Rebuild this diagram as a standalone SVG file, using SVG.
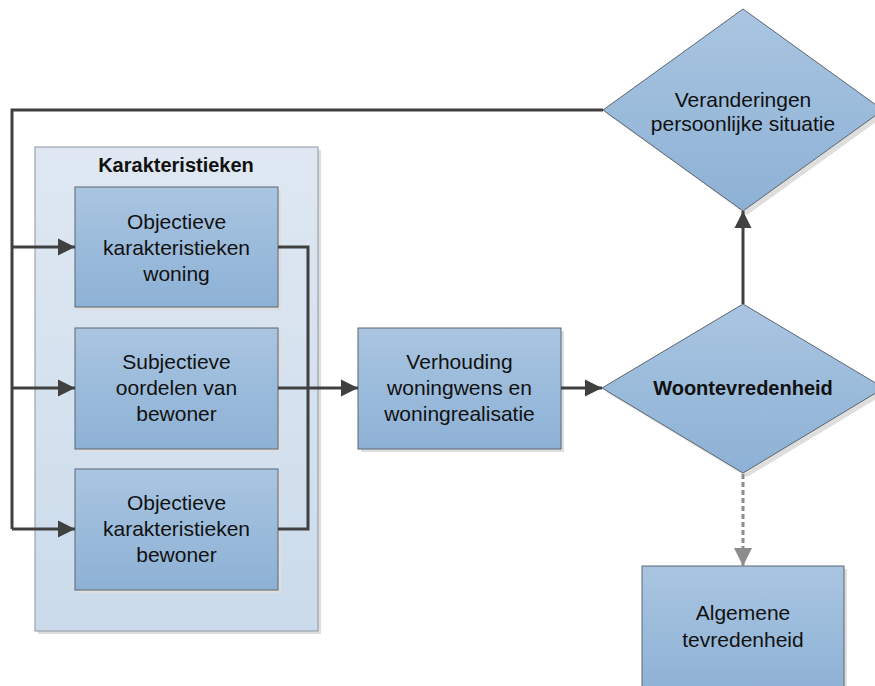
<svg xmlns="http://www.w3.org/2000/svg" width="875" height="686" viewBox="0 0 875 686">
<defs>
<linearGradient id="gBox" x1="0" y1="0" x2="0" y2="1"><stop offset="0" stop-color="#a9c5e1"/><stop offset="1" stop-color="#8db1d5"/></linearGradient>
<linearGradient id="gCont" x1="0" y1="0" x2="0" y2="1"><stop offset="0" stop-color="#dfe8f2"/><stop offset="1" stop-color="#cbdbeb"/></linearGradient>
<marker id="ah" viewBox="0 0 10 10" refX="10" refY="5" markerWidth="5.7" markerHeight="5.7" orient="auto" markerUnits="strokeWidth"><path d="M0,0 L10,5 L0,10 z" fill="#404040"/></marker>
<marker id="ahg" viewBox="0 0 10 10" refX="10" refY="5" markerWidth="6" markerHeight="6" orient="auto" markerUnits="strokeWidth"><path d="M0,0 L10,5 L0,10 z" fill="#8c8c8c"/></marker>
</defs>
<style>
.box{fill:url(#gBox);stroke:#5c6670;stroke-width:1}
.sh{fill:#dedede}
.t{font-family:"Liberation Sans",Arial,sans-serif;font-size:21px;fill:#111;text-anchor:middle}
.b{font-weight:bold;font-size:20px}
.ln{fill:none;stroke:#404040;stroke-width:3}
.dl{fill:none;stroke:#8c8c8c;stroke-width:3;stroke-dasharray:5,3}
</style>
<g id="container">
<rect x="38" y="150" width="283" height="484" class="sh"/>
<rect x="35" y="147" width="283" height="484" fill="url(#gCont)" stroke="#8a96a2" stroke-width="1"/>
<text x="176" y="172" class="t b">Karakteristieken</text>
</g>
<g id="box1">
<rect x="78" y="190" width="203" height="120" class="sh"/>
<rect x="75" y="187" width="203" height="120" class="box"/>
<text class="t"><tspan x="176.5" y="229">Objectieve</tspan><tspan x="176.5" y="255">karakteristieken</tspan><tspan x="176.5" y="281">woning</tspan></text>
</g>
<g id="box2">
<rect x="78" y="331" width="203" height="121" class="sh"/>
<rect x="75" y="328" width="203" height="121" class="box"/>
<text class="t"><tspan x="176.5" y="369">Subjectieve</tspan><tspan x="176.5" y="395">oordelen van</tspan><tspan x="176.5" y="421">bewoner</tspan></text>
</g>
<g id="box3">
<rect x="78" y="472" width="203" height="121" class="sh"/>
<rect x="75" y="469" width="203" height="121" class="box"/>
<text class="t"><tspan x="176.5" y="510">Objectieve</tspan><tspan x="176.5" y="536">karakteristieken</tspan><tspan x="176.5" y="562">bewoner</tspan></text>
</g>
<g id="verhouding">
<rect x="361" y="331" width="203" height="121" class="sh"/>
<rect x="358" y="328" width="203" height="121" class="box"/>
<text class="t"><tspan x="459.5" y="369">Verhouding</tspan><tspan x="459.5" y="395">woningwens en</tspan><tspan x="459.5" y="421">woningrealisatie</tspan></text>
</g>
<g id="woontevredenheid">
<path d="M747,308 L888,392 L747,477 L606,392 z" class="sh"/>
<path d="M743,304 L884,388 L743,473 L602,388 z" class="box"/>
<text x="743" y="395" class="t b">Woontevredenheid</text>
</g>
<g id="veranderingen">
<path d="M747,13 L887,114 L747,215 L607,114 z" class="sh"/>
<path d="M743,9 L883,110 L743,211 L603,110 z" class="box"/>
<text class="t"><tspan x="743" y="107">Veranderingen</tspan><tspan x="743" y="131">persoonlijke situatie</tspan></text>
</g>
<g id="algemene">
<rect x="645" y="569" width="202" height="130" class="sh"/>
<rect x="642" y="566" width="202" height="130" class="box"/>
<text class="t"><tspan x="743" y="620">Algemene</tspan><tspan x="743" y="647">tevredenheid</tspan></text>
</g>
<g id="connectors">
<path d="M603,110 L12,110 L12,529" class="ln"/>
<path d="M12,247 L75,247" class="ln" marker-end="url(#ah)"/>
<path d="M12,388 L75,388" class="ln" marker-end="url(#ah)"/>
<path d="M12,529 L75,529" class="ln" marker-end="url(#ah)"/>
<path d="M278,247 L308,247 L308,529 L278,529" class="ln"/>
<path d="M278,388 L358,388" class="ln" marker-end="url(#ah)"/>
<path d="M561,388 L602,388" class="ln" marker-end="url(#ah)"/>
<path d="M743,304 L743,211" class="ln" marker-end="url(#ah)"/>
<path d="M743,474 L743,566" class="dl" marker-end="url(#ahg)"/>
</g>
</svg>
